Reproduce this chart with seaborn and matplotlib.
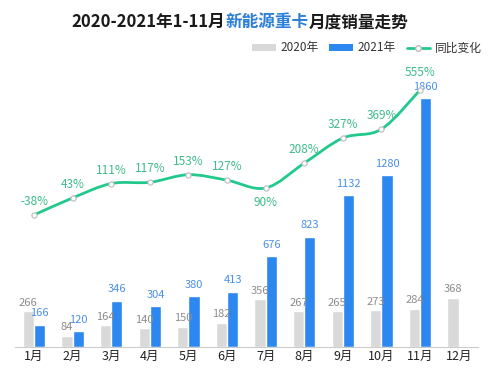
import numpy as np
import pandas as pd
import matplotlib
matplotlib.use("Agg")
import matplotlib.pyplot as plt
import seaborn as sns
from matplotlib.path import Path
from matplotlib.patches import PathPatch, Patch
from matplotlib.lines import Line2D

months = ["1月", "2月", "3月", "4月", "5月", "6月", "7月", "8月", "9月", "10月", "11月", "12月"]
sales_2020 = [266, 84, 164, 140, 150, 182, 356, 267, 265, 273, 284, 368]
sales_2021 = [166, 120, 346, 304, 380, 413, 676, 823, 1132, 1280, 1860, np.nan]
yoy_pct = [-38, 43, 111, 117, 153, 127, 90, 208, 327, 369, 555]

GRAY = "#d9d9d9"
BLUE = "#2d87f0"
GREEN = "#22c98c"

sns.set_theme(style="white")
plt.rcParams["font.family"] = ["Noto Sans CJK SC", "DejaVu Sans"]

df = pd.DataFrame({
    "month": months * 2,
    "year": ["2020年"] * 12 + ["2021年"] * 12,
    "value": sales_2020 + sales_2021,
})

fig = plt.figure(figsize=(5, 3.75), dpi=100)
ax = fig.add_axes([0.0294, 0.0747, 0.9266, 0.7653])

sns.barplot(data=df, x="month", y="value", hue="year", palette=[GRAY, BLUE],
            width=0.58, gap=0, ax=ax, legend=False, saturation=1)
ax.set_xlim(-0.5, 11.5)
ax.set_ylim(0, 2142)
ax.set_xlabel("")
ax.set_ylabel("")
ax.set_yticks([])
ax.tick_params(axis="x", length=0, labelsize=9, colors="#222222", pad=2)
for s in ["top", "right", "left"]:
    ax.spines[s].set_visible(False)
ax.spines["bottom"].set_color("#cccccc")
ax.spines["bottom"].set_linewidth(0.8)

# bar value labels: gray for 2020, blue for 2021
label_styles = [("#8c8c8c", 2.5), ("#4a8fe8", 4.5)]
for cont, (col, pad) in zip(ax.containers, label_styles):
    ax.bar_label(cont, fmt="%d", color=col, fontsize=8, padding=pad)

# year-on-year change on a second axis
ax2 = ax.twinx()
ax2.set_ylim(-664, 697)
ax2.set_yticks([])
for s in ax2.spines.values():
    s.set_visible(False)

xs = np.arange(len(yoy_pct), dtype=float)
ys = np.array(yoy_pct, dtype=float)
verts = [(xs[0], ys[0])]
codes = [Path.MOVETO]
n = len(xs)
for i in range(n - 1):
    p0 = (xs[max(i - 1, 0)], ys[max(i - 1, 0)])
    p1 = (xs[i], ys[i])
    p2 = (xs[i + 1], ys[i + 1])
    p3 = (xs[min(i + 2, n - 1)], ys[min(i + 2, n - 1)])
    c1 = (p1[0] + (p2[0] - p0[0]) / 6, p1[1] + (p2[1] - p0[1]) / 6)
    c2 = (p2[0] - (p3[0] - p1[0]) / 6, p2[1] - (p3[1] - p1[1]) / 6)
    verts += [c1, c2, p2]
    codes += [Path.CURVE4] * 3
ax2.add_patch(PathPatch(Path(verts, codes), fill=False, edgecolor=GREEN, lw=2))
sns.scatterplot(x=xs, y=ys, ax=ax2, s=14, color="white", edgecolor="#bbbbbb",
                linewidth=0.8, zorder=5)

for x, y in zip(xs, ys):
    if y == 90:
        ax2.annotate(f"{int(y)}%", (x, y), xytext=(0, -6), textcoords="offset points",
                     ha="center", va="top", fontsize=8.5, color="#3dbb8a")
    else:
        dy = 8 if y == max(ys) else 5
        ax2.annotate(f"{int(y)}%", (x, y), xytext=(0, dy), textcoords="offset points",
                     ha="center", va="bottom", fontsize=8.5, color="#3dbb8a")

# title with highlighted part
parts = [("2020-2021年1-11月", "#1a1a1a"), ("新能源重卡", "#2d7fd8"), ("月度销量走势", "#1a1a1a")]
texts = [fig.text(0, 0.941, p, fontsize=12, fontweight="bold", color=c, va="center")
         for p, c in parts]
fig.canvas.draw()
r = fig.canvas.get_renderer()
widths = [t.get_window_extent(r).width / fig.bbox.width for t in texts]
x0 = 240 / 500 - sum(widths) / 2
for t, w in zip(texts, widths):
    t.set_x(x0)
    x0 += w

handles = [
    Patch(facecolor=GRAY, edgecolor="none", label="2020年"),
    Patch(facecolor=BLUE, edgecolor="none", label="2021年"),
    Line2D([0], [0], color=GREEN, lw=2, marker="o", markersize=4,
           markerfacecolor="white", markeredgecolor="#bbbbbb", label="同比变化"),
]
fig.legend(handles=handles, loc="center right", bbox_to_anchor=(0.985, 0.872),
           ncol=3, frameon=False, fontsize=8.5, handlelength=2.0, handleheight=0.6,
           columnspacing=0.9, handletextpad=0.4, labelcolor="#333333")

fig.savefig("out.png", dpi=100)
